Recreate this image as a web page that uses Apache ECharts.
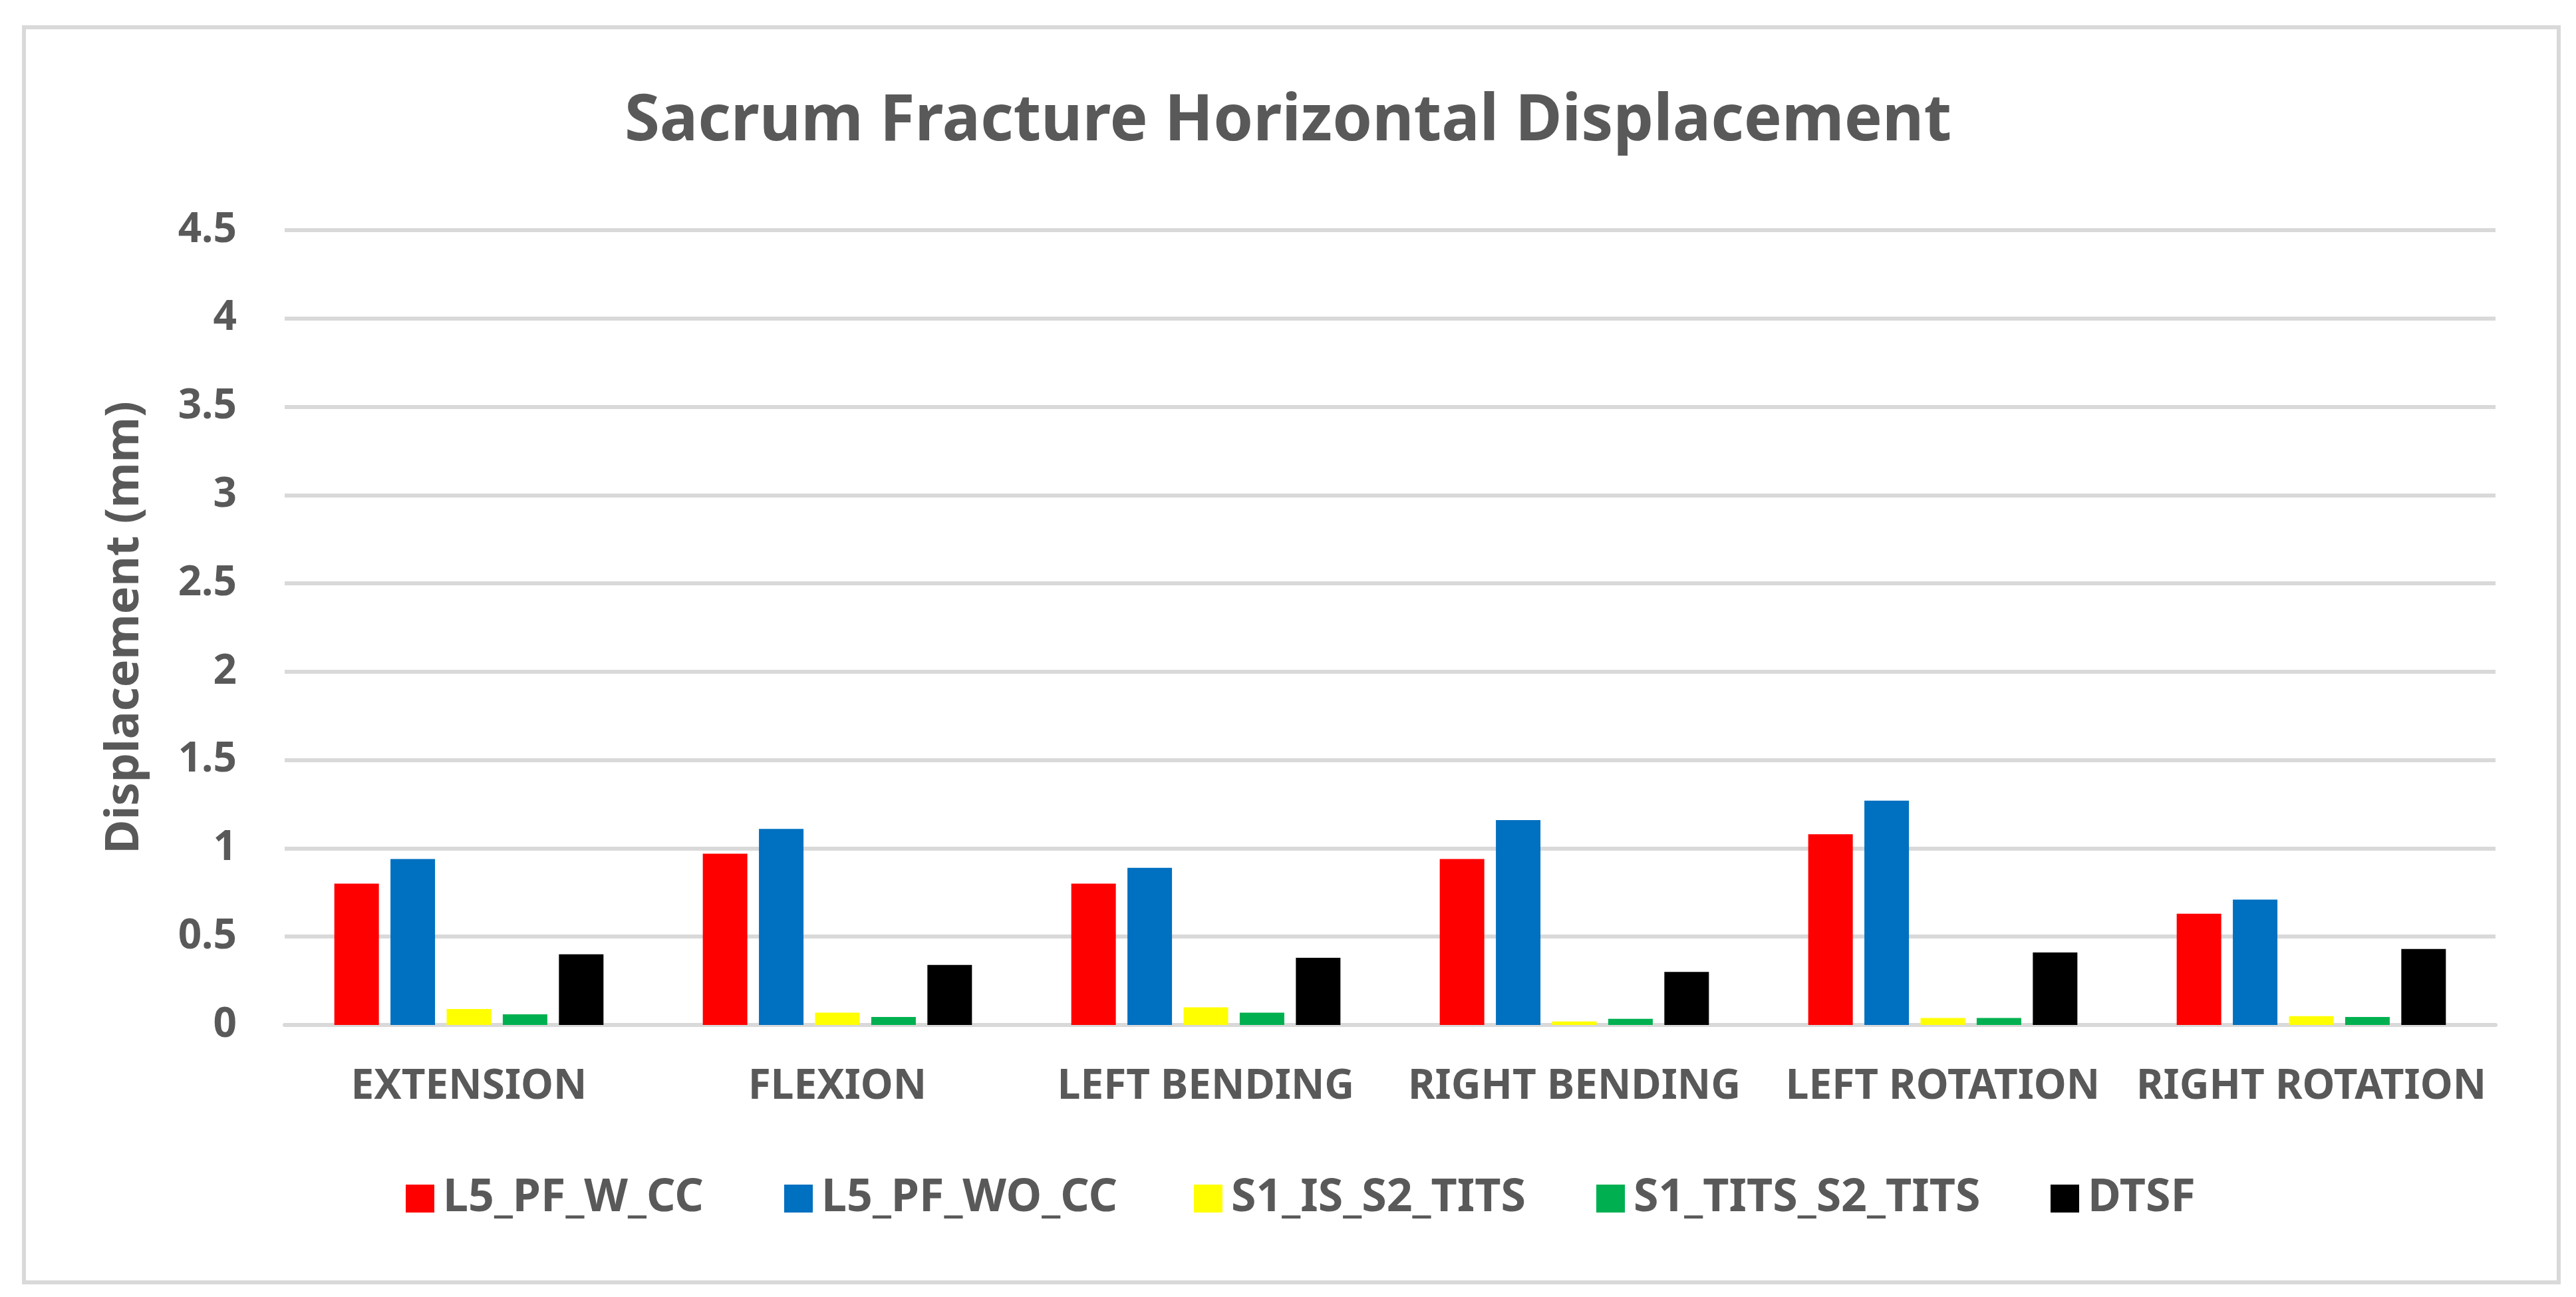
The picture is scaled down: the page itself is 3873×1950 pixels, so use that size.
<!DOCTYPE html>
<html>
<head>
<meta charset="utf-8">
<script src="https://cdn.jsdelivr.net/npm/echarts@6/dist/echarts.min.js"></script>
<style>html,body{margin:0;padding:0;background:#fff}#c{width:3873px;height:1950px}</style>
</head>
<body>
<div id="c"></div>
<script>
const categories = ['EXTENSION','FLEXION','LEFT BENDING','RIGHT BENDING','LEFT ROTATION','RIGHT ROTATION'];
const seriesNames = ['L5_PF_W_CC','L5_PF_WO_CC','S1_IS_S2_TITS','S1_TITS_S2_TITS','DTSF'];
const L5_PF_W_CC = [0.80, 0.97, 0.80, 0.94, 1.08, 0.63];
const L5_PF_WO_CC = [0.94, 1.11, 0.89, 1.16, 1.27, 0.71];
const S1_IS_S2_TITS = [0.09, 0.07, 0.10, 0.02, 0.04, 0.05];
const S1_TITS_S2_TITS = [0.06, 0.045, 0.07, 0.035, 0.04, 0.045];
const DTSF = [0.40, 0.34, 0.38, 0.30, 0.41, 0.43];
const yTicks = { min: 0, max: 4.5, interval: 0.5 };
const colors = ['#FF0000','#0070C0','#FFFF00','#00B050','#000000'];
const legendLeft = [610, 1179, 1795, 2400, 3083];

const FONT = '"Noto Sans", "Open Sans", sans-serif';
const TXT = '#595959';
const allData = [L5_PF_W_CC, L5_PF_WO_CC, S1_IS_S2_TITS, S1_TITS_S2_TITS, DTSF];

const chart = echarts.init(document.getElementById('c'), null, {renderer:'canvas'});
chart.setOption({
  animation: false,
  backgroundColor: '#ffffff',
  graphic: [{
    type: 'rect', left: 33, top: 38, z: -1,
    shape: { width: 3811, height: 1887 },
    style: { fill: 'none', stroke: '#D9D9D9', lineWidth: 6 }
  }],
  title: {
    text: 'Sacrum Fracture Horizontal Displacement',
    left: 'center', top: 131,
    textStyle: { fontFamily: FONT, fontWeight: 'bold', fontSize: 96, color: TXT }
  },
  legend: seriesNames.map((n, i) => ({
    data: [n],
    left: legendLeft[i], top: 1768, padding: 0,
    itemWidth: 43, itemHeight: 42,
    icon: 'rect',
    textStyle: { fontFamily: FONT, fontWeight: 'bold', fontSize: 68, color: TXT, padding: [0,0,0,8] }
  })),
  grid: { left: 428, right: 121, top: 346, bottom: 409, containLabel: false },
  xAxis: {
    type: 'category', data: categories,
    axisLine: { show: true, lineStyle: { color: '#D9D9D9', width: 6 } },
    axisTick: { show: false },
    axisLabel: { fontFamily: FONT, fontWeight: 'bold', fontSize: 62, color: TXT, margin: 62, interval: 0 }
  },
  yAxis: {
    type: 'value', min: yTicks.min, max: yTicks.max, interval: yTicks.interval,
    name: 'Displacement (mm)', nameLocation: 'middle', nameRotate: 90, nameGap: 205,
    nameTextStyle: { fontFamily: FONT, fontWeight: 'bold', fontSize: 70, color: TXT },
    axisLine: { show: false }, axisTick: { show: false },
    splitLine: { lineStyle: { color: '#D9D9D9', width: 6 } },
    axisLabel: { fontFamily: FONT, fontWeight: 'bold', fontSize: 62, color: TXT, margin: 72 }
  },
  series: seriesNames.map((n, i) => ({
    name: n, type: 'bar', data: allData[i],
    barWidth: 67, barGap: '26%',
    itemStyle: { color: colors[i] }
  }))
});
</script>
</body>
</html>
